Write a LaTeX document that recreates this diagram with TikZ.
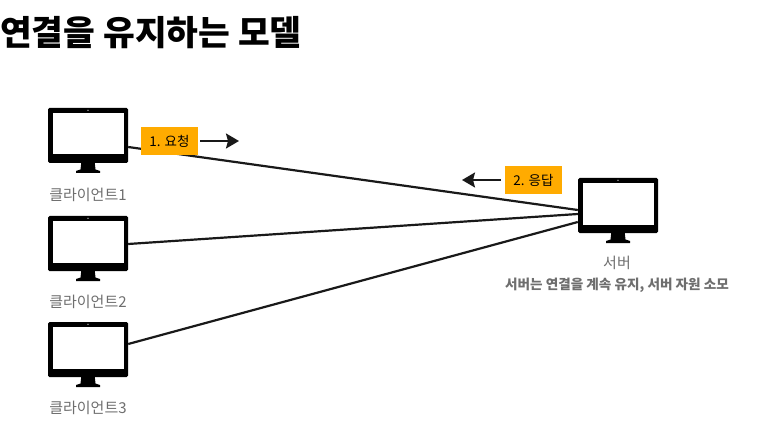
\documentclass[tikz,border=0pt]{standalone}
\usepackage{fontspec}
\setmainfont{Noto Sans CJK KR}
\usetikzlibrary{arrows.meta,positioning}

\definecolor{labelorange}{HTML}{FFAB00}
\definecolor{captiongray}{HTML}{6E6E6E}

\tikzset{
  monitor/.pic={
    \fill[black] (-6.5,25) -- (6.5,25) -- (7.5,34) -- (12,35.5) -- (12,37.5) -- (-12,37.5) -- (-12,35.5) -- (-7.5,34) -- cycle;
    \node[draw=none, fill=black, rounded corners=1.5pt, minimum width=80pt, minimum height=55pt, inner sep=0pt] (-body) at (0,0) {};
    \fill[white] (-35.5,-22.5) rectangle (35.5,19);
    \fill[white] (0,-25.2) circle (0.6pt);
  },
  caption/.style={text=captiongray, font=\fontsize{15}{15}\selectfont, inner sep=0pt},
  msgbox/.style={fill=labelorange, minimum width=57pt, minimum height=28pt, inner sep=0pt, font=\fontsize{13.5}{14}\selectfont},
  wire/.style={line width=2.2pt, black!90},
  flow/.style={line width=2pt, black!90, -{Stealth[length=13pt,width=15pt,inset=2pt]}},
}

\begin{document}
\begin{tikzpicture}[x=1pt,y=-1pt]
\useasboundingbox (0,0) rectangle (760,422);

\node[anchor=west, inner sep=0pt, font=\fontsize{34.5}{35}\selectfont\bfseries] (title) at (0,33) {연결을 유지하는 모델};

\pic (client1) at (88,135.5) {monitor};
\pic (client2) at (88,243.5) {monitor};
\pic (client3) at (88,349.5) {monitor};
\pic (server) at (618,205.5) {monitor};

\node[caption] (cap1) at (88,194.5) {클라이언트1};
\node[caption] (cap2) at (88,301.5) {클라이언트2};
\node[caption] (cap3) at (88,407.5) {클라이언트3};
\node[caption] (capserver) at (617,263) {서버};
\node[caption, font=\fontsize{13.6}{14}\selectfont\bfseries] (note) at (617,285) {서버는 연결을 계속 유지, 서버 자원 소모};

\draw[wire] ([yshift=-11.5pt]client1-body.east) -- ([yshift=-4.5pt]server-body.west);
\draw[wire] ([yshift=-0.5pt]client2-body.east) -- ([yshift=-8.5pt]server-body.west);
\draw[wire] ([yshift=5.5pt]client3-body.east) -- ([yshift=-16.5pt]server-body.west);

\node[msgbox] (req) at (169.5,141) {1. 요청};
\node[msgbox] (res) at (533.5,180) {2. 응답};
\coordinate (reqend) at (239,141);
\coordinate (resend) at (462,180);
\draw[flow] ([xshift=2pt]req.east) -- (reqend);
\draw[flow] ([xshift=-4pt]res.west) -- (resend);

\end{tikzpicture}
\end{document}
